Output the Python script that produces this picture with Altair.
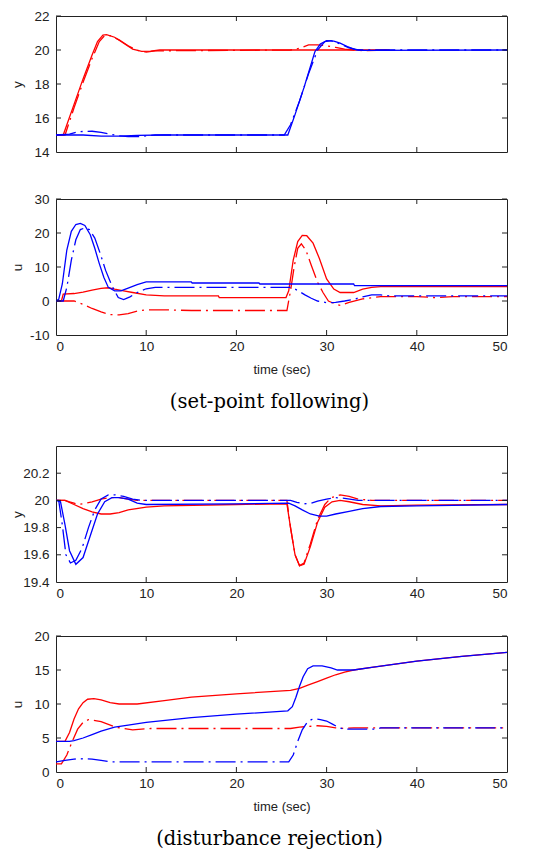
import altair as alt
import pandas as pd

# ---------------- data ----------------
# Panel 1: set-point following, output y
P1_RS_T = [0, 0.8, 2, 3, 4, 4.6, 5.2, 5.6, 6.5, 7.5, 8.5, 9.5, 10.5, 11.5, 37]
P1_RS_V = [15, 15, 16.8, 18.3, 19.7, 20.5, 20.88, 20.9, 20.75, 20.4, 20.05, 19.92, 19.93, 20.0, 20.0]
P1_RD_T = [0, 1.0, 2, 3, 4, 4.8, 5.4, 6, 7, 8, 9, 10, 11, 26, 27, 28, 29, 30, 31, 32, 33, 34, 37]
P1_RD_V = [15, 15, 16.6, 18.1, 19.5, 20.5, 20.85, 20.85, 20.6, 20.25, 19.98, 19.88, 19.95, 20.0, 20.1, 20.3, 20.3, 20.25, 20.15, 20.05, 20.0, 19.96, 20.0]
P1_BS_T = [0, 3, 5, 7, 9, 12, 25.7, 26.5, 27.5, 28.7, 29.3, 30, 30.8, 31.5, 32.3, 33.2, 34, 50]
P1_BS_V = [15, 15, 14.93, 14.93, 14.98, 15, 15, 16.2, 17.8, 19.9, 20.35, 20.55, 20.52, 20.4, 20.2, 20.02, 19.98, 20.0]
P1_BD_T = [0, 1.5, 2.5, 4, 5, 6, 7, 8, 9, 10, 11, 25.3, 26, 27, 28, 29, 29.8, 30.5, 31.5, 32.5, 33.5, 35, 50]
P1_BD_V = [15, 15.05, 15.2, 15.22, 15.15, 15.05, 14.95, 14.9, 14.9, 14.95, 15, 15, 15.6, 17.0, 18.6, 20.0, 20.5, 20.55, 20.35, 20.12, 20.0, 20.0, 20.0]

# Panel 2: set-point following, control u
P2_RS_T = [0, 0.6, 0.8, 2, 3, 4, 5, 5.8, 6.5, 7.5, 8.5, 10, 12, 18, 18.1, 25.5, 25.8, 26.3, 26.8, 27.3, 27.8, 28.5, 29.2, 30, 30.8, 31.5, 33, 34, 35, 36, 50]
P2_RS_V = [0, 0, 2, 2.2, 2.6, 3.2, 3.7, 3.9, 3.5, 3.0, 2.5, 1.8, 1.5, 1.5, 1.0, 1.0, 3, 12, 17.5, 19.3, 19.2, 17, 12.5, 6.5, 3.5, 2.5, 2.5, 3.5, 4.0, 4.2, 4.2]
P2_RD_T = [0, 2, 3, 4, 5, 6, 7, 8, 9, 10, 12, 15, 25.6, 26.0, 26.4, 26.8, 27.2, 27.7, 28.3, 29, 29.6, 30.2, 30.8, 31.5, 32.5, 34, 36, 40, 42, 44, 50]
P2_RD_V = [0, 0, -1, -2.2, -3.2, -4.0, -4.1, -3.7, -3.0, -2.6, -2.6, -2.8, -2.8, 3, 10, 15.5, 16.8, 15.0, 10.5, 5.5, 2.5, 0, -0.7, -1.3, -0.4, 0.6, 1.3, 1.3, 1.0, 1.3, 1.3]
P2_BS_T = [0, 0.3, 0.7, 1.2, 1.7, 2.2, 2.7, 3.2, 3.8, 4.3, 4.8, 5.3, 5.8, 6.5, 7.2, 8, 9, 10, 15, 15.1, 22.5, 22.6, 33, 33.1, 50]
P2_BS_V = [0, 0.5, 5, 15, 20.5, 22.5, 22.8, 22.2, 19.5, 15.5, 11, 7, 4, 3.0, 3.0, 3.8, 4.8, 5.6, 5.6, 5.3, 5.3, 5.0, 5.0, 4.5, 4.5]
P2_BD_T = [0, 0.8, 1.2, 1.7, 2.2, 2.7, 3.2, 3.7, 4.3, 4.9, 5.5, 6.2, 6.9, 7.5, 8.2, 9, 10, 11, 26, 26.5, 27, 27.6, 28.3, 29, 30, 31, 32, 33, 34, 35, 36, 37, 38, 50]
P2_BD_V = [0, 0, 4, 12, 18, 21, 21.5, 21, 18.5, 14, 9, 4.5, 1, 0.4, 1.2, 2.5, 3.6, 4.0, 4.0, 3.5, 2.8, 1.8, 0.8, 0, -0.5, -0.4, 0, 0.5, 1.2, 1.8, 1.8, 1.5, 1.5, 1.5]

# Panel 3: disturbance rejection, output y
P3_RS_T = [0, 1, 2, 3, 4, 5, 6, 7, 8, 10, 12, 20, 25.6, 26.0, 26.5, 27.0, 27.5, 28.2, 29, 29.8, 30.6, 31.5, 32.5, 34, 36, 40, 50]
P3_RS_V = [20, 20, 19.97, 19.94, 19.915, 19.9, 19.9, 19.91, 19.93, 19.95, 19.96, 19.97, 19.975, 19.8, 19.6, 19.52, 19.53, 19.66, 19.84, 19.95, 19.99, 20.0, 19.99, 19.97, 19.96, 19.965, 19.97]
P3_RD_T = [0, 1, 1.5, 2, 2.5, 3, 4, 5, 6, 7, 8, 9, 10, 25.6, 26.0, 26.5, 27.0, 27.5, 28.2, 29, 29.8, 30.5, 31.5, 32.5, 33.5, 35, 50]
P3_RD_V = [20, 20, 19.99, 19.98, 19.97, 19.975, 19.99, 20.01, 20.02, 20.02, 20.01, 20.0, 20.0, 20.0, 19.8, 19.6, 19.52, 19.54, 19.68, 19.86, 19.97, 20.02, 20.04, 20.03, 20.01, 20.0, 20.0]
P3_BS_T = [0, 0.5, 1.0, 1.5, 2.2, 3, 3.8, 4.6, 5.4, 6.2, 7, 8, 9, 10, 20, 25.8, 26.5, 27.3, 28.2, 29.2, 30, 31, 32.5, 34, 36, 40, 50]
P3_BS_V = [20, 19.99, 19.82, 19.63, 19.53, 19.58, 19.74, 19.9, 19.99, 20.02, 20.02, 20.01, 19.98, 19.97, 19.975, 19.98, 19.96, 19.93, 19.9, 19.885, 19.885, 19.9, 19.92, 19.94, 19.955, 19.96, 19.97]
P3_BD_T = [0, 0.3, 0.7, 1.1, 1.6, 2.2, 2.9, 3.6, 4.3, 5, 5.8, 6.6, 7.5, 8.5, 9.5, 26, 26.7, 27.5, 28.3, 29, 30, 31, 32, 33.5, 35, 50]
P3_BD_V = [20, 20, 19.82, 19.6, 19.54, 19.56, 19.65, 19.8, 19.93, 20.01, 20.04, 20.04, 20.03, 20.01, 20.0, 20.0, 19.985, 19.975, 19.98, 19.995, 20.01, 20.02, 20.015, 20.0, 20.0, 20.0]

# Panel 4: disturbance rejection, control u
P4_RS_T = [0, 1, 1.5, 2, 2.5, 3, 3.5, 4.2, 5, 6, 7, 9, 12, 15, 20, 26, 27, 28, 29, 30, 31, 32, 33, 35, 40, 45, 50]
P4_RS_V = [4.5, 4.5, 5.8, 7.8, 9.3, 10.2, 10.7, 10.8, 10.6, 10.2, 10.0, 10.0, 10.5, 11.0, 11.5, 12.0, 12.3, 12.8, 13.3, 13.8, 14.3, 14.7, 15.0, 15.4, 16.3, 17.0, 17.6]
P4_RD_T = [0, 0.6, 1.2, 1.8, 2.4, 3, 3.6, 4.2, 5, 5.8, 6.6, 7.5, 8.5, 9.5, 10.5, 26, 27, 28, 29, 30, 31, 32, 33, 50]
P4_RD_V = [1.2, 1.2, 2.5, 4.5, 6.3, 7.3, 7.7, 7.6, 7.4, 7.0, 6.6, 6.4, 6.2, 6.3, 6.4, 6.4, 6.6, 6.7, 6.8, 6.7, 6.5, 6.4, 6.5, 6.5]
P4_BS_T = [0, 1.5, 2, 3, 4, 5, 6.5, 8, 10, 15, 20, 25.7, 26.2, 26.6, 27.0, 27.4, 27.9, 28.5, 29.5, 30.5, 31.2, 33, 35, 40, 45, 50]
P4_BS_V = [4.5, 4.5, 4.6, 5.0, 5.5, 6.0, 6.6, 6.9, 7.3, 8.0, 8.5, 9.0, 9.6, 11.0, 12.6, 14.0, 15.2, 15.6, 15.6, 15.3, 15.0, 15.0, 15.4, 16.3, 17.0, 17.6]
P4_BD_T = [0, 1, 2, 3, 4, 5, 6, 25.8, 26.3, 26.8, 27.3, 27.8, 28.3, 28.8, 29.3, 30, 30.7, 31.4, 32, 34, 35.5, 36, 50]
P4_BD_V = [1.5, 1.7, 1.9, 1.95, 1.9, 1.7, 1.5, 1.5, 2.5, 4.5, 6.2, 7.2, 7.7, 7.8, 7.7, 7.5, 7.0, 6.5, 6.3, 6.3, 6.3, 6.5, 6.5]

X_TICKS = [0, 10, 20, 30, 40, 50]
P1_Y_TICKS = [14, 16, 18, 20, 22]
P2_Y_TICKS = [-10, 0, 10, 20, 30]
P3_Y_TICKS = [19.4, 19.6, 19.8, 20, 20.2]
P4_Y_TICKS = [0, 5, 10, 15, 20]

CAPTIONS = ["(set-point following)", "(disturbance rejection)"]
X_TITLE = "time (sec)"

# ---------------- styling ----------------
W, H, TL = 451, 136, 5
RED, BLUE, FRAME = "#ff0000", "#0000ff", "#222222"
DASHDOT = [20, 5, 2, 5]
SANS = "Liberation Sans"


def panel(series, ydom, yticks, ytitle, xlabels, xtitle, caption=None):
    xs = alt.Scale(domain=[0, 50], nice=False, zero=False)
    ys = alt.Scale(domain=ydom, nice=False, zero=False)
    xaxis = alt.Axis(values=X_TICKS, labels=xlabels, ticks=False, domain=False, grid=False,
                     labelPadding=4, titlePadding=11, titleFontSize=13, titleFontWeight="normal")
    yaxis = alt.Axis(values=yticks, labelExpr="'' + datum.value", ticks=False, domain=False,
                     grid=False, labelPadding=7, minExtent=30, maxExtent=30, titlePadding=2,
                     titleFontSize=13.5, titleFontWeight="normal")
    X = lambda: alt.X("t:Q", scale=xs, axis=xaxis, title=xtitle if xtitle else None)
    Y = lambda: alt.Y("v:Q", scale=ys, axis=yaxis, title=ytitle)

    layers = []
    for (T, V, color, dashed) in series:
        kw = dict(color=color, strokeWidth=1.3, clip=True)
        if dashed:
            kw["strokeDash"] = DASHDOT
        layers.append(
            alt.Chart(pd.DataFrame({"t": T, "v": V})).mark_line(**kw).encode(x=X(), y=Y())
        )
    # MATLAB-style inward ticks
    xt = pd.DataFrame({"t": X_TICKS[1:-1]})
    yt = pd.DataFrame({"v": yticks[1:]})
    layers.append(alt.Chart(xt).mark_rule(color=FRAME, strokeWidth=1).encode(
        x=X(), y=alt.value(0), y2=alt.value(TL)))
    layers.append(alt.Chart(xt).mark_rule(color=FRAME, strokeWidth=1).encode(
        x=X(), y=alt.value(H - TL), y2=alt.value(H)))
    layers.append(alt.Chart(yt).mark_rule(color=FRAME, strokeWidth=1).encode(
        y=Y(), x=alt.value(0), x2=alt.value(TL)))
    layers.append(alt.Chart(yt).mark_rule(color=FRAME, strokeWidth=1).encode(
        y=Y(), x=alt.value(W - TL), x2=alt.value(W)))

    props = dict(width=W, height=H)
    if caption:
        props["title"] = alt.TitleParams(caption, orient="bottom", font="DejaVu Serif",
                                         fontSize=19.5, fontWeight="normal", color="black",
                                         anchor="middle", offset=16, dx=-12)
    return alt.layer(*layers).properties(**props)


def four(a, b, c, d):
    return [(a[0], a[1], RED, False), (b[0], b[1], RED, True),
            (c[0], c[1], BLUE, False), (d[0], d[1], BLUE, True)]


p1 = panel(four((P1_RS_T, P1_RS_V), (P1_RD_T, P1_RD_V), (P1_BS_T, P1_BS_V), (P1_BD_T, P1_BD_V)),
           [14, 22], P1_Y_TICKS, "y", False, None)
p2 = panel(four((P2_RS_T, P2_RS_V), (P2_RD_T, P2_RD_V), (P2_BS_T, P2_BS_V), (P2_BD_T, P2_BD_V)),
           [-10, 30], P2_Y_TICKS, "u", True, X_TITLE, CAPTIONS[0])
p3 = panel(four((P3_RS_T, P3_RS_V), (P3_RD_T, P3_RD_V), (P3_BS_T, P3_BS_V), (P3_BD_T, P3_BD_V)),
           [19.4, 20.4], P3_Y_TICKS, "y", True, None)
p4 = panel(four((P4_RS_T, P4_RS_V), (P4_RD_T, P4_RD_V), (P4_BS_T, P4_BS_V), (P4_BD_T, P4_BD_V)),
           [0, 20], P4_Y_TICKS, "u", True, X_TITLE, CAPTIONS[1])

top = alt.vconcat(p1, p2, spacing=32)
bottom = alt.vconcat(p3, p4, spacing=28)
chart = alt.vconcat(top, bottom, spacing=33).properties(
    padding={"left": 1, "top": 0, "right": 0, "bottom": 0},
    background="white",
).configure_view(stroke=FRAME, strokeWidth=1).configure_axis(
    labelFont=SANS, labelFontSize=13.5, labelColor="#222222",
    titleFont=SANS, titleColor="#222222",
)

chart.save("out.html", embed_options={"renderer": "svg", "actions": False})
